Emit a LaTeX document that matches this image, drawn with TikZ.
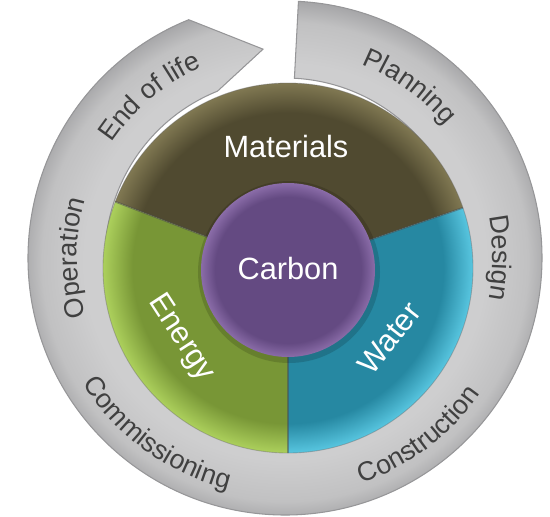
\documentclass[tikz,border=0pt]{standalone}
\usepackage{fontspec}
\setmainfont{Liberation Sans}
\usetikzlibrary{decorations.text}
\definecolor{matcol}{RGB}{80,74,48}
\definecolor{matrim}{RGB}{128,120,82}
\definecolor{enecol}{RGB}{120,150,54}
\definecolor{enerim}{RGB}{172,208,92}
\definecolor{watcol}{RGB}{38,136,162}
\definecolor{watrim}{RGB}{88,198,224}
\definecolor{carcol}{RGB}{100,74,130}
\definecolor{carrim}{RGB}{138,108,168}
\definecolor{ringlite}{RGB}{206,206,207}
\definecolor{ringmid}{RGB}{193,193,194}
\definecolor{ringdark}{RGB}{166,166,168}
\definecolor{ringedge}{RGB}{150,150,152}
\definecolor{ringtext}{RGB}{64,64,64}
\colorlet{rimin}{matcol}
\colorlet{rimout}{matrim}
\pgfdeclareradialshading[rimin,rimout]{rim}{\pgfpoint{0bp}{0bp}}{color(0bp)=(rimin); color(21bp)=(rimin); color(25bp)=(rimout); color(50bp)=(rimout)}
\pgfdeclareradialshading{ringshade}{\pgfpoint{0bp}{0bp}}{color(0bp)=(ringlite); color(19bp)=(ringlite); color(23bp)=(ringmid); color(25bp)=(ringdark); color(50bp)=(ringdark)}
\newcommand{\ringfont}{\fontsize{15.3}{18}\selectfont}

\begin{document}
\begin{tikzpicture}[
  ringlabel/.style={decorate, decoration={text along path, text align=center, text color=ringtext, text={|\ringfont|#1}}},
  pielabel/.style={text=white, font=\fontsize{17.5}{20}\selectfont},
  divider/.style={black!70, opacity=0.5, line width=1pt}]
  \useasboundingbox (-5.76,-4.96) rectangle (5.24,5.36);
  \begin{scope}[shift={(-0.06,0.2)}]
    \shadedraw[shading=ringshade, draw=ringedge, line width=0.6pt] (87:5.14) arc[start angle=87, end angle=-248, radius=5.14] -- (96:4.2) -- (112:3.6) arc[start angle=112, end angle=447, radius=3.6] -- cycle;
    \path[ringlabel=Planning] (99:4.16) arc[start angle=99, end angle=9, radius=4.16];
    \path[ringlabel=Design] (45:4.16) arc[start angle=45, end angle=-45, radius=4.16];
    \path[ringlabel=Construction] (-98:4.76) arc[start angle=-98, end angle=-8, radius=4.76];
    \path[ringlabel=Commissioning] (-171:4.76) arc[start angle=-171, end angle=-81, radius=4.76];
    \path[ringlabel=Operation] (225:4.16) arc[start angle=225, end angle=135, radius=4.16];
    \path[ringlabel={End of life}] (175:4.16) arc[start angle=175, end angle=85, radius=4.16];
  \end{scope}
  \foreach \a/\b/\c/\d in {19/159/matcol/matrim, 159/270/enecol/enerim, 270/379/watcol/watrim} {
    \begin{scope}
      \clip (0,0) -- (\a:3.7) arc[start angle=\a, end angle=\b, radius=3.7] -- cycle;
      \colorlet{rimin}{\c}\colorlet{rimout}{\d}
      \shade[shading=rim] (0,0) circle (3.7);
    \end{scope}
  }
  \foreach \a in {19,159,270} \draw[divider] (\a:1.7) -- (\a:3.7);
  \draw[black!60, opacity=0.4, line width=0.5pt] (0,0) circle (3.7);
  \fill[black, opacity=0.15] (0.02,-0.08) circle (1.82);
  \colorlet{rimin}{carcol}\colorlet{rimout}{carrim}
  \shade[shading=rim] (0,-0.04) circle (1.74);
  \node[pielabel] (materials) at (-0.04,2.42) {Materials};
  \node[pielabel] (carbon) at (0,0) {Carbon};
  \node[pielabel, rotate=-57] (energy) at (-2.14,-1.4) {Energy};
  \node[pielabel, rotate=52] (water) at (2.03,-1.4) {Water};
\end{tikzpicture}
\end{document}
